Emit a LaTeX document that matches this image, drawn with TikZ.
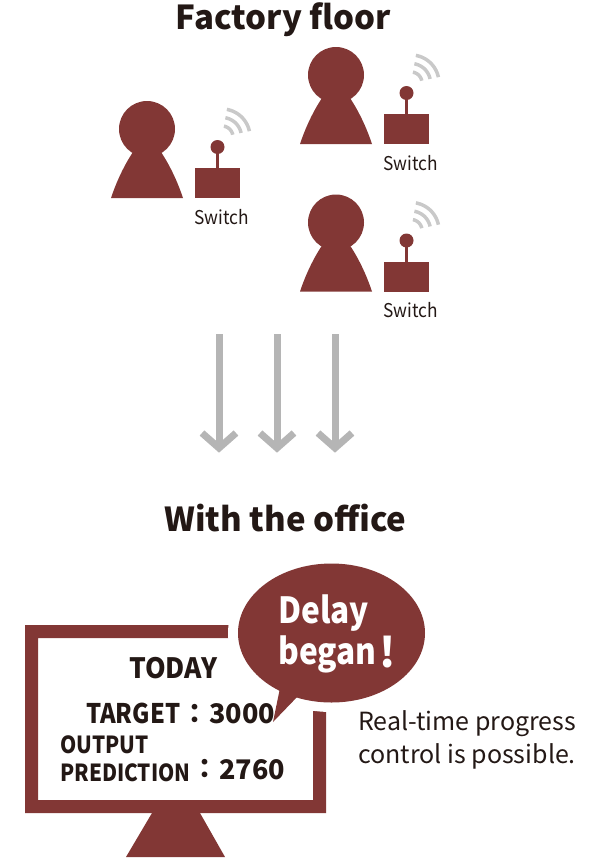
\documentclass[tikz,border=0pt]{standalone}
\usepackage{fontspec}
\setmainfont{Noto Sans CJK JP}
\newfontfamily\condf[FakeStretch=0.88]{Noto Sans CJK JP}
\newfontfamily\labf[FakeStretch=0.91]{Noto Sans CJK JP}
\newfontfamily\midf[FakeStretch=0.94]{Noto Sans CJK JP}
\usetikzlibrary{calc}
\definecolor{brick}{HTML}{823735}
\definecolor{ink}{HTML}{231815}
\definecolor{arrowgray}{HTML}{B5B5B5}
\definecolor{wavegray}{HTML}{C9C9C9}
\tikzset{
  x=1pt,y=-1pt,
  title/.style={text=ink,font=\bfseries\fontsize{33}{33}\selectfont,inner sep=0pt},
  lab/.style={text=ink,font=\labf\fontsize{19}{19}\selectfont,inner sep=0pt},
  screen/.style={text=ink,font=\condf\bfseries\fontsize{27}{27}\selectfont,inner sep=0pt},
  screentop/.style={text=ink,font=\midf\bfseries\fontsize{28}{28}\selectfont,inner sep=0pt},
  screennum/.style={text=ink,font=\bfseries\fontsize{27}{27}\selectfont,inner sep=0pt},
  screensm/.style={text=ink,font=\condf\bfseries\fontsize{23.5}{23.5}\selectfont,inner sep=0pt,align=left},
  note/.style={text=ink,font=\fontsize{25}{33}\selectfont,inner sep=0pt,align=left},
  bubtext/.style={text=white,font=\condf\bfseries\fontsize{36}{41}\selectfont,inner sep=0pt},
  bubbang/.style={text=white,font=\bfseries\fontsize{41}{41}\selectfont,inner sep=0pt},
  wave/.style={draw=wavegray,line width=3.5pt},
  flow/.style={draw=arrowgray,line width=7pt},
  pics/operator/.style={code={
    \fill[brick] (147,129) circle[radius=28];
    \fill[brick] (111,198) .. controls (117,180) and (125,164) .. (133,152) -- (161,152) .. controls (169,164) and (177,180) .. (183,198) -- cycle;
    \fill[brick] (195,168) rectangle (240,198);
    \fill[brick] (216,150) rectangle (219,168);
    \fill[brick] (217.5,147) circle[radius=7];
    \foreach \r in {11,19.5,28}{
      \draw[wave,domain=12:80,samples=20,smooth,variable=\t] plot ({222+\r*cos(\t)},{137-\r*sin(\t)});
    }
    \node[lab,anchor=base] (-sw) at (221.5,224) {Switch};
  }}
}
\begin{document}
\begin{tikzpicture}
\useasboundingbox (0,0) rectangle (600,860);
\node[title] (floor) at (283.5,20) {Factory floor};
\pic (p1) at (0,0) {operator};
\pic (p2) at (189,-54) {operator};
\pic (p3) at (189,93.5) {operator};
\foreach \x/\n in {219/a,277/b,335/c}{
  \coordinate (\n t) at (\x,334);
  \coordinate (\n b) at (\x,448);
  \coordinate (\n l) at (\x-17,433);
  \coordinate (\n r) at (\x+17,433);
  \draw[flow] (\n t) -- (\n b);
  \draw[flow,line join=miter] (\n l) -- (\n b) -- (\n r);
}
\node[title] (office) at (285.5,518) {With the office};
% monitor
\fill[brick,even odd rule] (25,625) rectangle (326,813) (38,638) rectangle (313,800);
\fill[brick] (152,813) -- (200,813) -- (225,857) -- (126,857) -- cycle;
% bubble
\fill[white] (331.5,633) ellipse[x radius=103.5,y radius=79];
\fill[brick] (331.5,633) ellipse[x radius=93.5,y radius=69.5];
\fill[brick] (280,688) -- (273,722) -- (299,695) -- cycle;
\node[bubtext,anchor=base west] (delay) at (278,623) {Delay};
\node[bubtext,anchor=base west] (began) at (278,664) {began};
\node[bubbang,anchor=base] (bang) at (388,667) {!};
\node[screentop,anchor=base] (today) at (173.5,678) {TODAY};
\node[screen,anchor=base west] (target) at (86,723) {TARGET};
\node[screennum,anchor=base] (tc) at (195,723) {：};
\node[screennum,anchor=base west] (tv) at (209,723) {3000};
\node[screensm,anchor=base west] (out) at (60,753) {OUTPUT};
\node[screensm,anchor=base west] (pred) at (60,781) {PREDICTION};
\node[screennum,anchor=base] (pc) at (205,778) {：};
\node[screennum,anchor=base west] (pv) at (219,779) {2760};
\node[note,anchor=north west] (noteb) at (358,710) {Real-time progress\\control is possible.};
\end{tikzpicture}
\end{document}
